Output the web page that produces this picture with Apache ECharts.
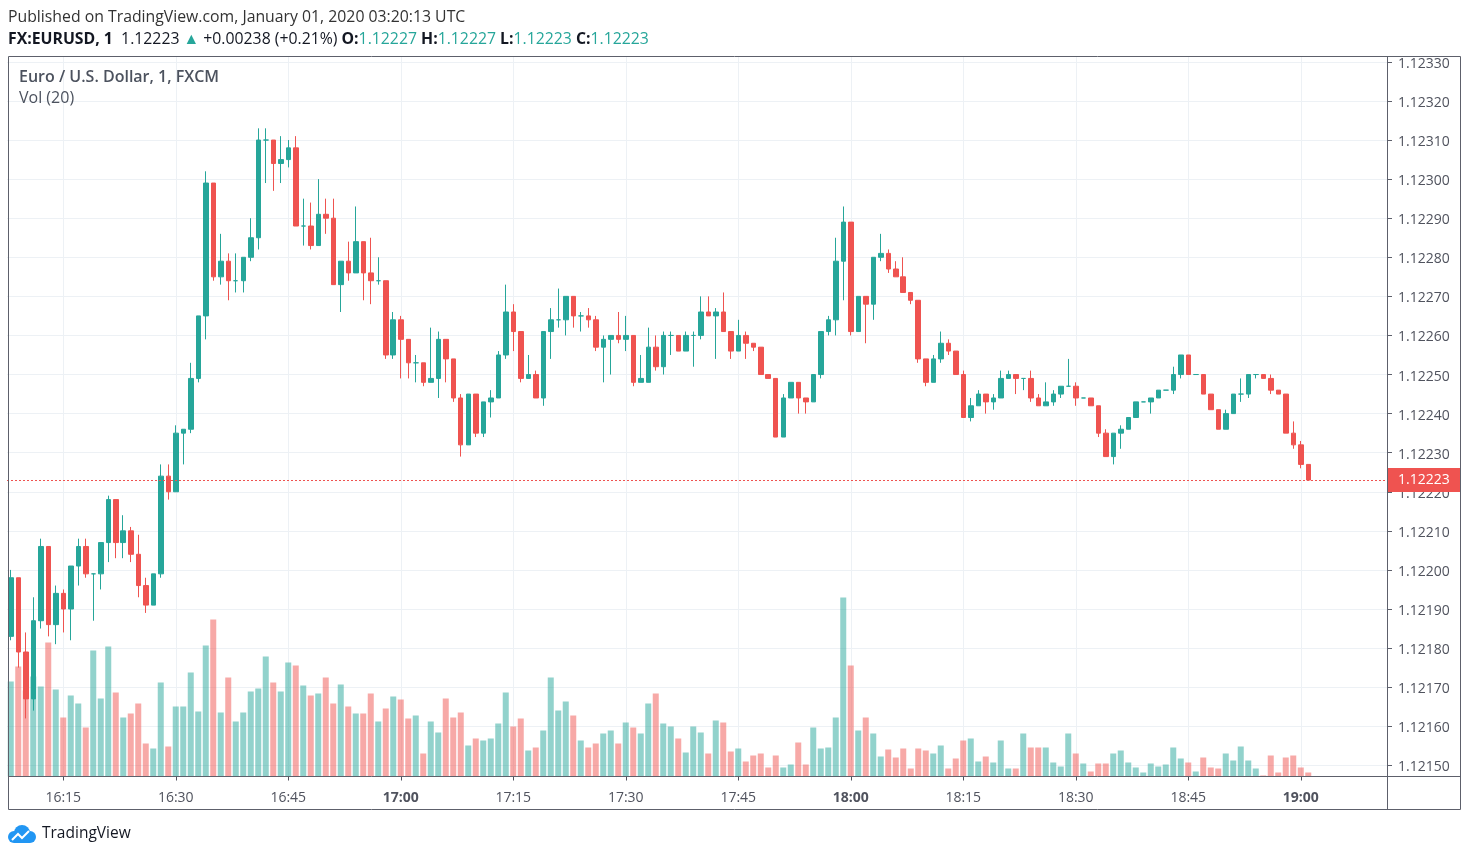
<!DOCTYPE html>
<html>
<head>
<meta charset="utf-8">
<script src="https://cdn.jsdelivr.net/npm/echarts@6/dist/echarts.min.js"></script>
<style>
html,body{margin:0;padding:0;background:#ffffff;}
#chart{width:1470px;height:857px;}
</style>
</head>
<body>
<div id="chart"></div>
<script>
// ---------- data (1-minute bars, FX:EURUSD) ----------
const startTime = '16:08';
const slotCount = 184; // time slots shown on the axis (bars + empty space on the right)

const opens = [
1.12183,1.12198,1.12179,1.12167,1.12187,1.12206,1.12186,1.12194,1.12190,1.12201,
1.12206,1.12199,1.12199,1.12207,1.12218,1.12207,1.12210,1.12204,1.12196,1.12191,
1.12199,1.12224,1.12220,1.12235,1.12236,1.12249,1.12265,1.12299,1.12275,1.12279,
1.12274,1.12274,1.12280,1.12285,1.12310,1.12310,1.12304,1.12305,1.12308,1.12288,
1.12288,1.12283,1.12291,1.12290,1.12273,1.12279,1.12276,1.12284,1.12276,1.12274,
1.12274,1.12255,1.12264,1.12259,1.12253,1.12253,1.12248,1.12249,1.12259,1.12254,
1.12244,1.12232,1.12245,1.12235,1.12243,1.12244,1.12255,1.12266,1.12261,1.12249,
1.12250,1.12244,1.12261,1.12264,1.12264,1.12270,1.12265,1.12265,1.12264,1.12257,
1.12259,1.12260,1.12259,1.12260,1.12248,1.12248,1.12257,1.12252,1.12260,1.12260,
1.12256,1.12260,1.12260,1.12266,1.12265,1.12266,1.12261,1.12256,1.12260,1.12258,
1.12257,1.12250,1.12249,1.12234,1.12244,1.12248,1.12244,1.12243,1.12250,1.12261,
1.12264,1.12279,1.12289,1.12261,1.12270,1.12268,1.12280,1.12281,1.12277,1.12275,
1.12271,1.12269,1.12254,1.12248,1.12254,1.12258,1.12256,1.12250,1.12239,1.12242,
1.12245,1.12243,1.12244,1.12249,1.12250,1.12249,1.12249,1.12244,1.12242,1.12243,
1.12245,1.12247,1.12247,1.12244,1.12244,1.12242,1.12235,1.12229,1.12235,1.12236,
1.12239,1.12243,1.12243,1.12244,1.12246,1.12246,1.12250,1.12255,1.12250,1.12250,
1.12245,1.12241,1.12236,1.12240,1.12245,1.12245,1.12250,1.12250,1.12249,1.12246,
1.12245,1.12235,1.12232,1.12227
];
const highs = [
1.12200,1.12198,1.12184,1.12193,1.12208,1.12206,1.12196,1.12195,1.12201,1.12208,
1.12208,1.12199,1.12207,1.12219,1.12218,1.12214,1.12211,1.12209,1.12198,1.12199,
1.12227,1.12227,1.12237,1.12236,1.12253,1.12265,1.12302,1.12299,1.12286,1.12281,
1.12281,1.12280,1.12290,1.12313,1.12313,1.12310,1.12311,1.12310,1.12311,1.12295,
1.12294,1.12300,1.12295,1.12295,1.12279,1.12284,1.12293,1.12284,1.12285,1.12280,
1.12274,1.12266,1.12265,1.12259,1.12255,1.12253,1.12262,1.12261,1.12259,1.12254,
1.12245,1.12245,1.12245,1.12243,1.12246,1.12256,1.12273,1.12268,1.12261,1.12255,
1.12251,1.12261,1.12267,1.12272,1.12270,1.12270,1.12266,1.12267,1.12265,1.12260,
1.12260,1.12266,1.12265,1.12260,1.12255,1.12262,1.12260,1.12261,1.12261,1.12260,
1.12261,1.12261,1.12270,1.12270,1.12267,1.12271,1.12261,1.12264,1.12261,1.12258,
1.12257,1.12250,1.12249,1.12245,1.12248,1.12248,1.12244,1.12250,1.12261,1.12265,
1.12285,1.12293,1.12289,1.12270,1.12270,1.12280,1.12286,1.12282,1.12279,1.12280,
1.12271,1.12269,1.12254,1.12255,1.12261,1.12259,1.12256,1.12251,1.12244,1.12246,
1.12245,1.12245,1.12251,1.12251,1.12250,1.12249,1.12251,1.12245,1.12248,1.12246,
1.12247,1.12254,1.12248,1.12244,1.12244,1.12242,1.12236,1.12235,1.12237,1.12239,
1.12243,1.12243,1.12244,1.12246,1.12246,1.12252,1.12255,1.12255,1.12250,1.12250,
1.12245,1.12241,1.12241,1.12245,1.12249,1.12250,1.12250,1.12250,1.12250,1.12246,
1.12245,1.12238,1.12233,1.12227
];
const lows = [
1.12182,1.12175,1.12162,1.12164,1.12185,1.12183,1.12181,1.12184,1.12182,1.12196,
1.12198,1.12187,1.12195,1.12202,1.12203,1.12203,1.12202,1.12193,1.12189,1.12191,
1.12198,1.12218,1.12220,1.12227,1.12235,1.12248,1.12259,1.12274,1.12273,1.12269,
1.12271,1.12271,1.12279,1.12282,1.12299,1.12297,1.12299,1.12303,1.12288,1.12283,
1.12282,1.12283,1.12286,1.12273,1.12266,1.12274,1.12276,1.12269,1.12268,1.12273,
1.12254,1.12254,1.12249,1.12249,1.12248,1.12247,1.12248,1.12244,1.12248,1.12243,
1.12229,1.12232,1.12234,1.12234,1.12239,1.12244,1.12254,1.12256,1.12248,1.12249,
1.12244,1.12242,1.12254,1.12262,1.12260,1.12262,1.12261,1.12262,1.12256,1.12248,
1.12250,1.12258,1.12256,1.12247,1.12248,1.12248,1.12251,1.12250,1.12255,1.12256,
1.12256,1.12252,1.12259,1.12265,1.12254,1.12261,1.12254,1.12256,1.12254,1.12256,
1.12250,1.12249,1.12234,1.12234,1.12244,1.12240,1.12240,1.12243,1.12249,1.12260,
1.12260,1.12269,1.12260,1.12261,1.12258,1.12264,1.12279,1.12276,1.12275,1.12271,
1.12268,1.12253,1.12247,1.12248,1.12253,1.12255,1.12250,1.12239,1.12238,1.12242,
1.12240,1.12241,1.12244,1.12249,1.12245,1.12246,1.12243,1.12242,1.12242,1.12242,
1.12244,1.12247,1.12242,1.12244,1.12242,1.12234,1.12229,1.12227,1.12231,1.12236,
1.12239,1.12243,1.12240,1.12244,1.12246,1.12245,1.12249,1.12250,1.12250,1.12245,
1.12241,1.12236,1.12236,1.12240,1.12243,1.12244,1.12249,1.12249,1.12245,1.12245,
1.12235,1.12231,1.12226,1.12223
];
const closes = [
1.12198,1.12179,1.12167,1.12187,1.12206,1.12186,1.12194,1.12190,1.12201,1.12206,
1.12199,1.12199,1.12207,1.12218,1.12207,1.12210,1.12204,1.12196,1.12191,1.12199,
1.12224,1.12220,1.12235,1.12236,1.12249,1.12265,1.12299,1.12275,1.12279,1.12274,
1.12274,1.12280,1.12285,1.12310,1.12310,1.12304,1.12305,1.12308,1.12288,1.12288,
1.12283,1.12291,1.12290,1.12273,1.12279,1.12276,1.12284,1.12276,1.12274,1.12274,
1.12255,1.12264,1.12259,1.12253,1.12253,1.12248,1.12249,1.12259,1.12254,1.12244,
1.12232,1.12245,1.12235,1.12243,1.12244,1.12255,1.12266,1.12261,1.12249,1.12250,
1.12244,1.12261,1.12264,1.12264,1.12270,1.12265,1.12265,1.12264,1.12257,1.12259,
1.12260,1.12259,1.12260,1.12248,1.12249,1.12257,1.12252,1.12260,1.12260,1.12256,
1.12260,1.12260,1.12266,1.12265,1.12266,1.12261,1.12256,1.12260,1.12258,1.12257,
1.12250,1.12249,1.12234,1.12244,1.12248,1.12244,1.12243,1.12250,1.12261,1.12264,
1.12279,1.12289,1.12261,1.12270,1.12268,1.12280,1.12281,1.12277,1.12275,1.12271,
1.12269,1.12254,1.12248,1.12254,1.12258,1.12256,1.12250,1.12239,1.12242,1.12245,
1.12243,1.12244,1.12249,1.12250,1.12249,1.12249,1.12244,1.12242,1.12243,1.12245,
1.12247,1.12247,1.12244,1.12244,1.12242,1.12235,1.12229,1.12235,1.12236,1.12239,
1.12243,1.12243,1.12244,1.12246,1.12246,1.12250,1.12255,1.12250,1.12250,1.12245,
1.12241,1.12236,1.12240,1.12245,1.12245,1.12250,1.12250,1.12249,1.12246,1.12245,
1.12235,1.12232,1.12227,1.12223
];
const volumes = [
95,110,86,100,90,134,87,59,81,73,
49,126,78,130,84,59,63,73,33,28,
94,30,70,70,104,65,131,157,64,99,
55,64,85,88,120,94,85,114,111,91,
81,83,99,73,92,70,63,63,83,55,
68,80,77,58,61,23,55,44,78,59,
64,31,38,36,38,53,84,50,58,26,
29,46,99,66,75,61,36,29,33,43,
46,33,54,49,43,73,83,53,50,38,
24,50,44,23,56,54,25,28,15,21,
23,9,21,9,12,34,12,49,28,29,
59,179,111,46,59,43,20,27,19,28,
8,28,26,23,31,8,18,36,38,15,
20,14,36,8,8,43,29,29,29,14,
10,43,23,13,5,13,13,23,26,14,
9,4,13,10,12,29,18,14,5,19,
9,8,23,16,30,16,8,1,21,4,
19,21,9,4
];
const priceTicks = [1.1215,1.1216,1.1217,1.1218,1.1219,1.1220,1.1221,1.1222,1.1223,
                    1.1224,1.1225,1.1226,1.1227,1.1228,1.1229,1.1230,1.1231,1.1232,1.1233];
const timeTickStep = 15; // minutes between time labels

const publishedText = 'Published on TradingView.com, January 01, 2020 03:20:13 UTC';
const symbolText = 'FX:EURUSD, 1';
const changeText = '+0.00238 (+0.21%)';
const seriesTitle = 'Euro / U.S. Dollar, 1, FXCM';
const volumeTitle = 'Vol (20)';
const brandText = 'TradingView';

// ---------- build ----------
const UP = '#26a69a', DOWN = '#ef5350';
const UP_VOL = 'rgba(38,166,154,0.5)', DOWN_VOL = 'rgba(239,83,80,0.5)';
const TEXT = '#131722', AXIS_TEXT = '#50535e', FRAME = '#5d606b', GRID = '#edf1f5';
const FONT = "'Open Sans', 'Noto Sans', sans-serif";

const pad = n => String(n).padStart(2, '0');
const [sh, sm] = startTime.split(':').map(Number);
const categories = [];
for (let k = 0; k < slotCount; k++) {
  const t = sh * 60 + sm + k;
  categories.push(pad(Math.floor(t / 60) % 24) + ':' + pad(t % 60));
}
const isTimeTick = (idx, val) => Number(String(val).split(':')[1]) % timeTickStep === 0;

const candleData = opens.map((o, i) => [o, closes[i], lows[i], highs[i]]);
const volData = volumes.map((v, i) => ({
  value: v,
  itemStyle: { color: closes[i] >= opens[i] ? UP_VOL : DOWN_VOL }
}));
const last = opens.length - 1;
const lastClose = closes[last];
const f5 = v => v.toFixed(5);

const chart = echarts.init(document.getElementById('chart'), null, { renderer: 'canvas' });

const option = {
  animation: false,
  backgroundColor: '#ffffff',
  grid: [
    { left: 7, width: 1380, top: 57, height: 719.5, containLabel: false },
    { left: 7, width: 1380, top: 596.5, height: 180, containLabel: false }
  ],
  xAxis: [
    {
      type: 'category', gridIndex: 0, data: categories, boundaryGap: true,
      axisLine: { show: false },
      axisTick: { show: true, alignWithLabel: true, interval: isTimeTick, length: 4, lineStyle: { color: AXIS_TEXT } },
      axisLabel: {
        interval: isTimeTick, color: AXIS_TEXT, fontSize: 14, fontFamily: FONT, margin: 15,
        formatter: v => v.endsWith(':00') ? '{b|' + v + '}' : v,
        rich: { b: { fontWeight: 'bold', fontSize: 14, fontFamily: FONT, color: AXIS_TEXT } }
      },
      splitLine: { show: true, interval: isTimeTick, alignWithLabel: true, lineStyle: { color: GRID, width: 1 } }
    },
    {
      type: 'category', gridIndex: 1, data: categories, boundaryGap: true,
      axisLine: { show: false }, axisTick: { show: false }, axisLabel: { show: false }, splitLine: { show: false }
    }
  ],
  yAxis: [
    {
      type: 'value', gridIndex: 0, position: 'right',
      min: 1.1214714, max: 1.1233125, scale: true,
      axisLine: { show: false },
      axisTick: { show: true, length: 5, customValues: priceTicks, lineStyle: { color: FRAME } },
      axisLabel: {
        customValues: priceTicks, formatter: v => '{p|' + f5(v) + '}', margin: 11,
        color: AXIS_TEXT, fontSize: 14, fontFamily: FONT,
        rich: { p: { color: AXIS_TEXT, fontSize: 14, fontFamily: FONT, padding: [4, 0, 0, 0] } }
      },
      splitLine: { show: true, lineStyle: { color: GRID, width: 1 } }
    },
    {
      type: 'value', gridIndex: 1, min: 0, max: 180, show: false,
      splitLine: { show: false }
    }
  ],
  series: [
    {
      type: 'bar', name: 'Volume', xAxisIndex: 1, yAxisIndex: 1,
      data: volData, barWidth: 6, z: 1, silent: true
    },
    {
      type: 'candlestick', name: 'EURUSD', xAxisIndex: 0, yAxisIndex: 0,
      data: candleData, barWidth: 5, z: 3, clip: false,
      itemStyle: { color: UP, color0: DOWN, borderColor: UP, borderColor0: DOWN, borderWidth: 1 }
    },
    {
      // carrier for the last-price line
      type: 'line', name: 'Last', xAxisIndex: 0, yAxisIndex: 0, z: 4,
      data: [[categories[last], lastClose]], showSymbol: false, symbol: 'none', silent: true,
      lineStyle: { opacity: 0 },
      markLine: {
        silent: true, symbol: ['none', 'none'], animation: false, precision: 5,
        data: [{ yAxis: lastClose }],
        lineStyle: { color: DOWN, type: [2, 2], width: 1 },
        label: {
          show: true, position: 'end', distance: 0, formatter: f5(lastClose),
          backgroundColor: DOWN, color: '#ffffff', fontSize: 14, fontFamily: FONT,
          padding: [5, 11, 3, 11], lineHeight: 16
        }
      }
    }
  ],
  graphic: [
    // frame
    { type: 'rect', silent: true, z: 50, shape: { x: 8.5, y: 56.5, width: 1452, height: 753 },
      style: { fill: 'none', stroke: FRAME, lineWidth: 1 } },
    { type: 'line', silent: true, z: 50, shape: { x1: 1387.5, y1: 56.5, x2: 1387.5, y2: 809.5 },
      style: { stroke: FRAME, lineWidth: 1 } },
    { type: 'line', silent: true, z: 50, shape: { x1: 8.5, y1: 776.5, x2: 1460.5, y2: 776.5 },
      style: { stroke: FRAME, lineWidth: 1 } },
    // header
    { type: 'text', silent: true, left: 8, top: 9,
      style: { text: publishedText, fill: '#333333', font: '15.8px ' + FONT } },
    { type: 'text', silent: true, left: 8, top: 31,
      style: {
        text: '{b|' + symbolText + '}  {n|' + f5(lastClose) + '} {g|▲} {n|' + changeText + '} ' +
              '{b|O:}{g|' + f5(opens[last]) + '} {b|H:}{g|' + f5(highs[last]) + '} ' +
              '{b|L:}{g|' + f5(lows[last]) + '} {b|C:}{g|' + f5(closes[last]) + '}',
        font: '15.8px ' + FONT, fill: TEXT,
        rich: {
          b: { fontWeight: 'bold', fontSize: 15.8, fontFamily: FONT, fill: TEXT },
          n: { fontSize: 15.8, fontFamily: FONT, fill: TEXT },
          g: { fontSize: 15.8, fontFamily: FONT, fill: UP }
        }
      } },
    { type: 'text', silent: true, left: 19, top: 69, z: 60,
      style: { text: seriesTitle, fill: '#4c525e', font: '600 16px ' + FONT } },
    { type: 'text', silent: true, left: 19, top: 90, z: 60,
      style: { text: volumeTitle, fill: '#4c525e', font: '16px ' + FONT } },
    // brand logo
    { type: 'group', left: 8, top: 825, silent: true, children: [
      { type: 'circle', shape: { cx: 7, cy: 12, r: 6 }, style: { fill: '#2196f3' } },
      { type: 'circle', shape: { cx: 15, cy: 8, r: 8 }, style: { fill: '#2196f3' } },
      { type: 'circle', shape: { cx: 23, cy: 12, r: 6 }, style: { fill: '#2196f3' } },
      { type: 'rect', shape: { x: 7, y: 10, width: 16, height: 8 }, style: { fill: '#2196f3' } },
      { type: 'polyline', shape: { points: [[5, 15], [11, 9], [15, 13], [22, 6]] },
        style: { stroke: '#ffffff', lineWidth: 2, fill: 'none' } }
    ] },
    { type: 'text', silent: true, left: 42, top: 826,
      style: { text: brandText, fill: TEXT, font: '15.5px ' + FONT } }
  ]
};
chart.setOption(option);
</script>
</body>
</html>
